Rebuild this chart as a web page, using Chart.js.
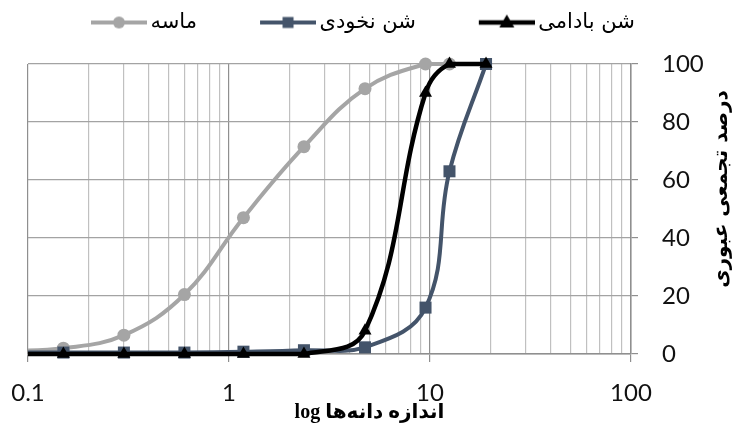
<!DOCTYPE html>
<html><head><meta charset="utf-8">
<script src="https://cdn.jsdelivr.net/npm/chart.js@4.4.1/dist/chart.umd.min.js"></script>
<style>html,body{margin:0;padding:0;background:#fff}#wrap{width:737px;height:427px;position:relative}</style>
</head><body><div id="wrap"><canvas id="c"></canvas></div>
<script>
// ---- data ----
const sieveSizes = [0.075, 0.15, 0.3, 0.6, 1.18, 2.36, 4.75, 9.5, 12.5, 19];
const sandValues = [1, 2, 6.5, 20.5, 47, 71.5, 91.5, 100, 100];
const peaGravelValues = [0.5, 0.5, 0.5, 0.5, 0.8, 1.3, 2.3, 16, 63, 100];
const almondGravelValues = [0, 0, 0, 0, 0, 0, 8, 90, 100, 100];
const seriesNames = ['شن بادامی', 'شن نخودی', 'ماسه'];
const xTickLabels = [0.1, 1, 10, 100];
const yTickLabels = [0, 20, 40, 60, 80, 100];
const xTitle = '\u2003\u2003\u2003\u2003log اندازه دانه‌ها';
const yTitle = 'درصد تجمعی عبوری';

const colors = ['#000000', '#44546a', '#a5a5a5'];
const styles = ['triangle', 'rect', 'circle'];
const radii = [7.5, 8.5, 6.5];
const widths = [4.5, 4, 4];

function toPoints(vals) { return vals.map((v, i) => ({x: sieveSizes[i], y: v})); }
const seriesValues = [almondGravelValues, peaGravelValues, sandValues];

const BOX_W = 100;
function legendIcon(i) {
  const W = 2 * (BOX_W + 7 - BOX_W / 2), H = 20;
  const c = document.createElement('canvas');
  c.width = W; c.height = H;
  const g = c.getContext('2d');
  const x1 = W - 56, x2 = W, cy = H / 2, cx = (x1 + x2) / 2;
  g.strokeStyle = colors[i]; g.lineWidth = widths[i];
  g.beginPath(); g.moveTo(x1, cy); g.lineTo(x2, cy); g.stroke();
  g.fillStyle = colors[i];
  g.beginPath();
  if (styles[i] === 'circle') { g.arc(cx, cy, 6, 0, Math.PI * 2); }
  else if (styles[i] === 'rect') { g.rect(cx - 5.5, cy - 5.5, 11, 11); }
  else { g.moveTo(cx, cy - 8); g.lineTo(cx + 7.5, cy + 5); g.lineTo(cx - 7.5, cy + 5); g.closePath(); }
  g.fill();
  return c;
}
const icons = [0, 1, 2].map(legendIcon);

const datasets = seriesNames.map((name, i) => ({
  label: name,
  data: toPoints(seriesValues[i]),
  borderColor: colors[i],
  backgroundColor: colors[i],
  borderWidth: widths[i],
  pointStyle: styles[i],
  pointRadius: radii[i],
  pointHoverRadius: radii[i],
  pointBorderWidth: 0,
  tension: 0.4,
  clip: {left: 0, top: 15, right: 15, bottom: 15}
}));

const isMajor = v => xTickLabels.some(d => Math.abs(v - d) < 1e-9);

const layoutPlugin = {
  id: 'layoutFix',
  beforeLayout(chart) {
    const lg = chart.legend;
    if (lg && !lg._fixed) {
      const orig = lg.fit;
      lg.fit = function () { orig.call(this); this.height = 64; };
      lg._fixed = true;
    }
  },
  afterDraw(chart) {
    const ctx = chart.ctx;
    ctx.save();
    ctx.translate(722, 189);
    ctx.rotate(-Math.PI / 2);
    ctx.font = 'bold 20px "DejaVu Sans"';
    ctx.fillStyle = '#000';
    ctx.textAlign = 'center';
    ctx.textBaseline = 'middle';
    ctx.fillText(yTitle, 0, 0);
    ctx.restore();
  }
};

new Chart(document.getElementById('c'), {
  type: 'line',
  data: { datasets },
  plugins: [layoutPlugin],
  options: {
    responsive: true,
    maintainAspectRatio: false,
    animation: false,
    devicePixelRatio: 1,
    layout: { padding: { left: 28, right: 0, top: 0, bottom: 0 } },
    plugins: {
      tooltip: { enabled: false },
      legend: {
        position: 'top',
        align: 'start',
        reverse: true,
        labels: {
          usePointStyle: true,
          pointStyleWidth: BOX_W,
          padding: 12,
          color: '#000',
          font: { family: '"DejaVu Sans"', size: 21 },
          generateLabels(chart) {
            return chart.data.datasets.map((ds, i) => ({
              text: ds.label, pointStyle: icons[i], datasetIndex: i, hidden: false,
              fillStyle: ds.borderColor, strokeStyle: ds.borderColor, lineWidth: 0, fontColor: '#000'
            }));
          }
        }
      }
    },
    scales: {
      x: {
        type: 'logarithmic',
        position: 'bottom',
        min: 0.1, max: 100,
        afterBuildTicks(scale) {
          const t = [];
          for (let k = 0; k < xTickLabels.length - 1; k++) {
            for (let m = 1; m <= 9; m++) t.push({ value: xTickLabels[k] * m });
          }
          t.push({ value: xTickLabels[xTickLabels.length - 1] });
          scale.ticks = t;
        },
        afterFit(scale) { scale.height = 73; scale.paddingLeft = 0; scale.paddingRight = 0; },
        ticks: {
          autoSkip: false, maxRotation: 0, minRotation: 0, padding: 17,
          color: '#111',
          font: { family: 'Lato', size: 24 },
          callback(v) { return isMajor(v) ? String(xTickLabels.find(d => Math.abs(v - d) < 1e-9)) : ''; }
        },
        grid: {
          color: c => (c.tick && isMajor(c.tick.value)) ? '#8f8f8f' : '#c0c0c0',
          lineWidth: 1.2,
          tickLength: 8,
          tickColor: c => (c.tick && isMajor(c.tick.value)) ? '#8f8f8f' : 'rgba(0,0,0,0)'
        },
        border: { color: '#8f8f8f', width: 1.5 },
        title: {
          display: true, text: xTitle, color: '#000',
          font: { family: '"Liberation Serif", "DejaVu Sans"', size: 20, weight: 'bold' },
          padding: { top: 0, bottom: 2 }
        }
      },
      y: {
        type: 'linear',
        position: 'right',
        min: 0, max: 100,
        afterBuildTicks(scale) { scale.ticks = yTickLabels.map(v => ({ value: v })); },
        afterFit(scale) { scale.width = 106; },
        ticks: {
          padding: 24, color: '#111',
          font: { family: 'Lato', size: 24 }
        },
        grid: { color: '#a3a3a3', lineWidth: 1.2, tickLength: 7, tickColor: '#8f8f8f' },
        border: { color: '#8f8f8f', width: 1.5 }
      }
    }
  }
});
</script>
</body></html>
